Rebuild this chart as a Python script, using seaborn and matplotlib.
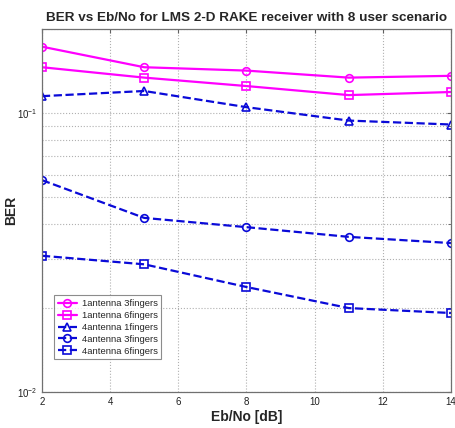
import numpy as np
import pandas as pd
import matplotlib
matplotlib.use('Agg')
import matplotlib.pyplot as plt
import seaborn as sns
from matplotlib.ticker import LogLocator, NullFormatter

# Eb/No values (dB)
ebno = [2, 5, 8, 11, 14]

# BER curves
ber_1ant_3f = [0.173, 0.146, 0.142, 0.134, 0.136]
ber_1ant_6f = [0.146, 0.134, 0.125, 0.116, 0.119]
ber_4ant_1f = [0.115, 0.120, 0.105, 0.094, 0.091]
ber_4ant_3f = [0.0575, 0.0421, 0.039, 0.036, 0.0342]
ber_4ant_6f = [0.0308, 0.0287, 0.0238, 0.0200, 0.0192]

labels = ['1antenna 3fingers', '1antenna 6fingers', '4antenna 1fingers',
          '4antenna 3fingers', '4antenna 6fingers']

sns.set_style('white')
plt.rcParams['font.family'] = ['Liberation Sans', 'DejaVu Sans']
plt.rcParams['mathtext.fontset'] = 'custom'
plt.rcParams['mathtext.rm'] = 'Liberation Sans'

fig = plt.figure(figsize=(4.56, 4.28), dpi=100)
ax = fig.add_axes([0.092, 0.084, 0.897, 0.848])

magenta = '#ff00ff'
blue = '#0a0ad8'
series = [
    (ber_1ant_3f, magenta, 'o', '-'),
    (ber_1ant_6f, magenta, 's', '-'),
    (ber_4ant_1f, blue, '^', '--'),
    (ber_4ant_3f, blue, 'o', '--'),
    (ber_4ant_6f, blue, 's', '--'),
]
for (vals, col, mk, ls), lab in zip(series, labels):
    sns.lineplot(x=ebno, y=vals, ax=ax, color=col, marker=mk, linestyle=ls,
                 linewidth=1.6, markersize=5.5, markerfacecolor='none',
                 markeredgecolor=col, markeredgewidth=1.2, label=lab)

ax.set_yscale('log')
ax.set_xlim(2, 14)
ax.set_ylim(0.01, 0.2)
ax.set_xticks([2, 4, 6, 8, 10, 12, 14])
ax.yaxis.set_major_locator(LogLocator(base=10, numticks=5))
ax.yaxis.set_minor_locator(LogLocator(base=10, subs=np.arange(2, 10), numticks=20))
ax.yaxis.set_minor_formatter(NullFormatter())

ax.grid(True, which='both', linestyle=':', color='#b0b0b0', linewidth=0.8)
ax.tick_params(direction='in', which='both', top=True, right=True,
               labelsize=7, length=3, color='#606060', labelcolor='#202020')
ax.tick_params(which='minor', length=2)
for sp in ax.spines.values():
    sp.set_color('#707070')
    sp.set_linewidth(0.9)

ax.set_title('BER vs Eb/No for LMS 2-D RAKE receiver with 8 user scenario',
             fontsize=9.7, fontweight='bold', pad=6)
ax.set_xlabel('Eb/No [dB]', fontsize=10, fontweight='bold', labelpad=2)
ax.set_ylabel('BER', fontsize=10, fontweight='bold')
ax.yaxis.set_label_coords(-0.058, 0.5)

leg = ax.legend(loc='lower left', bbox_to_anchor=(0.03, 0.09), borderaxespad=0,
                fontsize=6.8, frameon=True, fancybox=False, handlelength=2.0,
                handletextpad=0.5, labelspacing=0.3, borderpad=0.4)
leg.get_frame().set_edgecolor('#707070')
leg.get_frame().set_linewidth(0.8)

fig.savefig('out.png', dpi=100)
